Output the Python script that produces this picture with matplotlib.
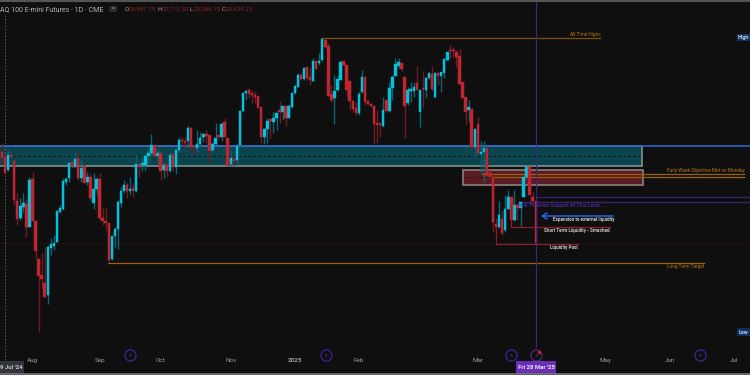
import numpy as np
import matplotlib
matplotlib.use("Agg")
from matplotlib import pyplot as plt
from matplotlib.patches import Rectangle

plt.rcParams['font.family'] = ['Roboto', 'DejaVu Sans']

# daily candles (no price scale shown, so prices are estimates)
opens = [20960,20860,20600,20900,20780,19980,19640,19860,19920,19460,20420,19580,18820,18500,18340,18100,19040,19080,19160,19760,
         19820,20360,20440,20760,20660,20840,20440,20660,20360,20460,19940,20220,20420,19640,19580,19540,18820,19280,19420,19940,
         20180,20300,20180,20240,20180,20720,20700,20700,20880,20940,21080,20880,20940,20600,20700,20580,20920,20660,21000,21200,
         21180,21180,21440,21080,21040,21120,21260,21320,21300,21000,21120,21300,21260,21560,21240,20720,20820,20800,21100,21780,
         22140,22200,22140,22100,22080,21860,21260,21420,21620,21560,21640,21800,21760,21880,21640,21860,22140,22260,22500,22420,
         22660,22460,22380,22780,22740,22800,23200,23080,22120,22040,22200,22400,22780,22700,22380,21980,21840,21740,22160,22460,
         21980,21920,21880,21540,21540,21480,22000,21780,22240,22480,22680,22740,22460,21940,22180,22180,22340,21760,22240,22200,
         22440,22520,22060,22540,22480,22540,22800,23000,23000,22960,22880,22360,22060,21800,21820,21060,21520,20920,20960,21040,
         20560,20460,19520,19460,19620,19400,19820,20060,19600,19900,19840,20060,20460,20660,20060,19980]
highs = [21140,20940,21000,20900,20780,20140,20040,20140,20040,20460,20560,19580,18820,18940,19060,19100,19240,19300,19800,19900,
         20440,20460,20760,20760,20940,20960,20800,20740,20560,20540,20540,20460,20540,19840,19840,19540,19280,19460,20000,20260,
         20400,20360,20460,20340,20900,20740,20840,20900,21000,21320,21140,21000,20940,20760,20800,20960,20960,21040,21260,21260,
         21260,21480,21460,21100,21400,21360,21340,21400,21300,21160,21540,21300,21560,21640,21240,21000,20940,21140,21800,22160,
         22200,22240,22200,22180,22080,21860,21440,21640,21620,21760,21760,21980,21900,21880,21900,22160,22300,22540,22540,22660,
         22660,22660,22840,22800,22940,23220,23220,23140,22300,22500,22500,22780,22780,22700,22400,22000,21960,22160,22600,22480,
         22000,21940,21900,21800,21540,22060,22000,22360,22500,22840,22840,22760,22460,22260,22360,22360,22680,22200,22560,22460,
         22560,22680,22560,22560,22560,22840,22960,23100,23060,23000,23020,22360,22060,22000,21840,21440,21660,21180,21180,21040,
         20600,20460,19640,19980,19800,20100,20200,20060,20200,19940,19960,20480,20680,20680,20160,19980]
lows = [20740,20520,20580,20840,19900,19500,19600,19760,19260,19460,19580,18840,17360,18240,18060,17920,18900,19000,19160,19740,
        19800,20300,20360,20640,20660,20400,20360,20340,20300,20000,19820,20100,19600,19500,19400,18760,18800,19060,19020,19860,
        20140,20040,20100,20060,20160,20460,20580,20580,20740,20900,20860,20700,20400,20440,20460,20560,20580,20520,20960,21060,
        21040,21100,20960,20900,20960,21060,21160,21140,20740,20960,21100,21220,21180,21260,20680,20680,20680,20700,21080,21760,
        22000,22040,21940,21940,21840,21140,21120,21140,21240,21340,21400,21540,21600,21480,21640,21840,22120,22260,22400,22400,
        22400,22300,22380,22620,22700,22780,23040,22080,21960,21520,22180,22400,22680,22060,21800,21760,21700,21700,22140,21900,
        21900,21860,21140,21140,21260,21460,21760,21760,22000,22480,22640,22580,21240,21900,21960,22060,22200,21460,21840,22040,
        22420,22200,22040,22300,22160,22440,22780,22840,22860,22660,22300,22040,21520,21580,21040,20860,20920,20540,20360,20460,
        20400,19360,19240,19440,19300,19360,19820,19460,19580,19600,19480,20060,20440,20100,19940,19140]
closes = [20840,20540,20900,20860,20000,19620,19880,19940,19460,20400,19580,18980,18480,18420,18060,19060,19120,19140,19780,19840,
          20380,20420,20740,20660,20820,20440,20640,20340,20460,20040,20220,20420,19640,19580,19540,18800,19280,19420,19960,20180,
          20300,20180,20220,20180,20720,20660,20740,20880,20940,21100,20880,20940,20580,20700,20580,20900,20660,21000,21200,21180,
          21140,21440,21060,21060,21120,21240,21320,21280,20980,21120,21240,21260,21520,21260,20680,20840,20780,21080,21780,22140,
          22180,22120,22100,22060,21840,21260,21420,21580,21580,21640,21740,21760,21880,21640,21880,22140,22280,22500,22420,22640,
          22440,22400,22780,22620,22780,23220,23060,22080,22000,22180,22420,22760,22700,22200,21980,21820,21740,22120,22460,21960,
          21920,21880,21520,21500,21500,21800,21780,22240,22460,22720,22760,22620,21880,22200,22220,22260,22200,22200,22220,22440,
          22540,22220,22540,22480,22560,22820,22960,22980,22980,22860,22320,22040,21760,21860,21060,21420,20940,20960,21040,20480,
          20460,19560,19460,19700,19340,19820,20060,19600,19900,19840,19960,20460,20660,20100,19980,19140]

# price levels of the drawn objects
all_time_high = 23240
zone_top, zone_mid, zone_bottom = 21080, 20880, 20680
red_top, red_mid, red_bottom = 20600, 20460, 20300
objective_1, objective_2 = 20530, 20460
support_1, support_2 = 20060, 19960
expansion = 19680
short_term = 19470
pool = 19120
pool_dotted = 19140
long_term = 18740

tick_bars = [10, 32, 52, 75, 96, 117, 156, 198, 219, 240]
tick_labels = ['Aug', 'Sep', 'Oct', 'Nov', '2025', 'Feb', 'Mar', 'May', 'Jun', 'Jul']

BG = '#0f0f0f'
UP = '#00c2dc'
DOWN = '#c02632'
UP_WICK = '#0b6473'
DOWN_WICK = '#6e1c24'
ORANGE = '#b8730f'
PURPLE = '#3b1f7a'
LABEL = '#c8c8c8'


def bx(px):
    # screen column to bar number
    return (px - 2) / 3.05


def py(px):
    # screen row to price
    return 24000 - 20 * px


fig = plt.figure(figsize=(7.5, 3.75), dpi=100, facecolor=BG)
ax = fig.add_axes([0, 0, 1, 1], facecolor=BG)
ax.set_xlim(bx(0), bx(750))
ax.set_ylim(py(375), py(0))
for s in ax.spines.values():
    s.set_visible(False)
ax.set_yticks([])
ax.set_xticks(tick_bars)
ax.set_xticklabels(tick_labels, fontsize=4.6, color='#9a9a9a')
ax.tick_params(axis='x', length=0, pad=-12)
for lab in ax.get_xticklabels():
    if lab.get_text() == '2025':
        lab.set_fontweight('bold')

# zones go under the candles
ax.add_patch(Rectangle((bx(-2), zone_bottom), bx(642) - bx(-2), zone_top - zone_bottom, fc='#0a444d', ec='#8a9a9c', lw=1.1, zorder=1))
ax.add_patch(Rectangle((bx(463), red_bottom), bx(643) - bx(463), red_top - red_bottom, fc='#5a1b22', ec='#8c8080', lw=1.2, zorder=1))
ax.plot([bx(0), bx(750)], [zone_top + 10, zone_top + 10], color='#2a62c4', lw=1.2, zorder=2)
ax.plot([bx(3), bx(640)], [zone_mid, zone_mid], color='#0c0f10', lw=0.6, ls=(0, (3, 3)), zorder=2)
ax.plot([bx(465), bx(500)], [red_mid, red_mid], color='#1a1010', lw=0.6, ls=(0, (3, 3)), zorder=2)

o = np.array(opens)
h = np.array(highs)
l = np.array(lows)
c = np.array(closes)
x = np.arange(len(o))
up = c >= o
ax.vlines(x[up], l[up], h[up], color=UP_WICK, lw=1.0, zorder=3)
ax.vlines(x[~up], l[~up], h[~up], color=DOWN_WICK, lw=1.0, zorder=3)
ax.bar(x[up], (c - o)[up], bottom=o[up], width=0.8, color=UP, ec=UP, lw=0.3, zorder=4)
ax.bar(x[~up], (c - o)[~up], bottom=o[~up], width=0.8, color=DOWN, ec=DOWN, lw=0.3, zorder=4)

# levels
ax.plot([bx(322), bx(600)], [all_time_high] * 2, color='#7a4f10', lw=0.9, zorder=2)
ax.plot([bx(482), bx(744)], [objective_1] * 2, color='#9a5f12', lw=0.9, zorder=3)
ax.plot([bx(494), bx(744)], [objective_2] * 2, color='#9a5f12', lw=0.9, zorder=3)
ax.plot([bx(108), bx(704)], [long_term] * 2, color='#9a5f12', lw=0.9, zorder=2)
ax.plot([bx(536), bx(750)], [support_1] * 2, color=PURPLE, lw=0.9, zorder=2)
ax.plot([bx(520), bx(750)], [support_2] * 2, color=PURPLE, lw=0.9, zorder=2)
ax.plot([bx(0), bx(750)], [pool_dotted] * 2, color='#3a1418', lw=0.7, ls=(0, (1, 1)), zorder=2)
ax.plot([bx(511), bx(610)], [short_term] * 2, color='#8e1f28', lw=0.9, zorder=5)
ax.plot([bx(511), bx(511)], [short_term, 19900], color='#8e1f28', lw=0.7, zorder=5)
ax.plot([bx(496), bx(578)], [pool] * 2, color='#8e1f28', lw=0.9, zorder=5)
ax.plot([bx(496), bx(496)], [pool, 19400], color='#8e1f28', lw=0.7, zorder=5)
ax.annotate('', xy=(bx(538), expansion), xytext=(bx(616), expansion),
            arrowprops=dict(arrowstyle='->,head_width=0.22,head_length=0.35', color='#2a62e0', lw=1.1), zorder=5)

# current bar cursor and session break
ax.plot([bx(536), bx(536)], [py(347), py(0)], color='#3c2680', lw=0.8, zorder=6)
ax.plot([bx(4.5), bx(4.5)], [py(360), py(15)], color='#6a6a6a', lw=0.6, ls=(0, (2, 2)), zorder=2)

# texts
ax.text(bx(585), py(34), 'All Time Highs', color=ORANGE, fontsize=3.4, ha='center', va='center')
ax.text(bx(705.5), py(170), 'Early Week Objective Met on Monday', color=ORANGE, fontsize=3.4, ha='center', va='center')
ax.text(bx(685.5), py(266.5), 'Long Term Target', color=ORANGE, fontsize=3.3, ha='center', va='center')
ax.text(bx(561), py(205.5), 'Will There be Support At This Level...', color='#5a35b0', fontsize=3.8, ha='center', va='center', zorder=7)
ax.text(bx(583.5), py(219.5), 'Expansion to external liquidity', color=LABEL, fontsize=3.3, fontweight='bold', ha='center', va='center')
ax.text(bx(576.5), py(230.5), 'Short Term Liquidity - Smashed', color=LABEL, fontsize=3.3, fontweight='bold', ha='center', va='center')
ax.text(bx(563.5), py(247.5), 'Liquidity Pool', color=LABEL, fontsize=3.3, fontweight='bold', ha='center', va='center')

# header
ax.text(bx(0), py(9.5), 'AQ 100 E-mini Futures · 1D · CME', color='#b4b4b4', fontsize=5.0, va='center', ha='left')
ax.add_patch(Rectangle((bx(109), py(12)), bx(117) - bx(109), py(6) - py(12), fc='#2c2c2c', ec='none'))
ax.text(bx(113), py(9), '=', color='#bbbbbb', fontsize=4, ha='center', va='center')
ohlc = [('O', '20,687.75', 125), ('H', '20,712.50', 158), ('L', '20,386.75', 190), ('C', '20,434.25', 222)]
for letter, val, px in ohlc:
    ax.text(bx(px), py(9.5), letter, color='#a8a8a8', fontsize=4.4, va='center', ha='left')
    ax.text(bx(px + 4), py(9.5), val, color='#8e1f28', fontsize=4.4, va='center', ha='left')

# side labels
for label, row in [('High', 37.5), ('Low', 332)]:
    ax.add_patch(Rectangle((bx(737), py(row + 3.8)), bx(750) - bx(737), py(row - 3.8) - py(row + 3.8), fc='#12305f', ec='none', zorder=7))
    ax.text(bx(743.5), py(row), label, color='#c8d4e8', fontsize=3.9, fontweight='bold', ha='center', va='center', zorder=8)

# event icons
for px in [130, 326, 511, 700]:
    ax.plot([bx(px)], [py(355)], 'o', ms=8, mfc='none', mec='#4526a8', mew=0.8, zorder=6)
    ax.text(bx(px), py(355), '>', color='#6a4bd0', fontsize=3.6, ha='center', va='center', zorder=7)
ax.plot([bx(536)], [py(355)], 'o', ms=8, mfc=BG, mec='#5a2a90', mew=0.8, zorder=7)
ax.text(bx(536), py(355), '⚡', color='#6a3ab0', fontsize=3.6, ha='center', va='center', zorder=8)
ax.plot([bx(539)], [py(352)], 'o', ms=1.5, color='#d02030', zorder=8)

# date boxes on the time axis
ax.add_patch(Rectangle((bx(516), py(373.5)), bx(556) - bx(516), py(361) - py(373.5), fc='#6a2fb5', ec='none', zorder=7))
ax.text(bx(536), py(367.5), "Fri 28 Mar '25", color='#e8e0f4', fontsize=4.3, fontweight='bold', ha='center', va='center', zorder=8)
ax.add_patch(Rectangle((bx(0), py(374)), bx(24) - bx(0), py(361) - py(374), fc='#34343c', ec='none', zorder=7))
ax.text(bx(11), py(367.5), "9 Jul '24", color='#c4c4c4', fontsize=4.3, fontweight='bold', ha='center', va='center', zorder=8)

# window edges
ax.plot([bx(0), bx(750)], [py(1)] * 2, color='#555555', lw=1.5, zorder=9)
ax.plot([bx(0), bx(750)], [py(374.3)] * 2, color='#777777', lw=1.2, zorder=9)

fig.savefig('out.png', dpi=100, facecolor=BG)
